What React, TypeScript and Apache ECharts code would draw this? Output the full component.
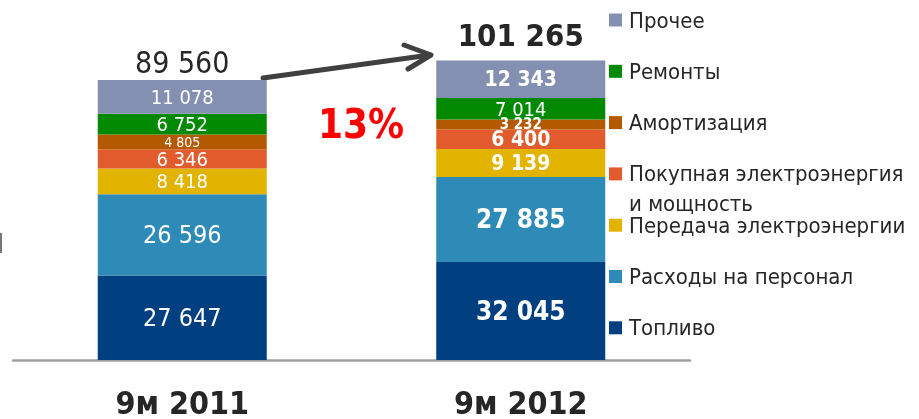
import React, { useEffect, useRef } from "react";
import * as echarts from "echarts";

const categories = ["9м 2011", "9м 2012"];
const seriesNames = [
  "Топливо",
  "Расходы на персонал",
  "Передача электроэнергии",
  "Покупная электроэнергия",
  "Амортизация",
  "Ремонты",
  "Прочее",
];
const fuel = [27647, 32045];
const personnel = [26596, 27885];
const transmission = [8418, 9139];
const purchased = [6346, 6400];
const depreciation = [4805, 3232];
const repairs = [6752, 7014];
const other = [11078, 12343];
const totals = [89560, 101265];
const growthText = "13%";
const legendExtraLine = "и мощность";

const seriesValues = [fuel, personnel, transmission, purchased, depreciation, repairs, other];
const colors = ["#003f80", "#2e8ab6", "#e2b400", "#e15b2d", "#b35a00", "#018a01", "#8490b2"];
// label font size per series per category
const labelSizes = [
  [25, 26],
  [25, 26],
  [20, 21],
  [20, 21],
  [14, 15],
  [20, 20],
  [20, 21],
];
const labelBold = [
  [false, true],
  [false, true],
  [false, true],
  [false, true],
  [false, true],
  [false, false],
  [false, true],
];

const FONT = '"DejaVu Sans Condensed", "DejaVu Sans", sans-serif';

const fmt = (v: number) => String(v).replace(/\B(?=(\d{3})+(?!\d))/g, " ");

export default function App() {
  const ref = useRef<HTMLDivElement>(null);
  useEffect(() => {
    if (!ref.current) return;
    const chart = echarts.init(ref.current, undefined, { renderer: "svg" });
    const barSeries: any[] = seriesNames.map((name, si) => ({
      name,
      type: "bar",
      stack: "total",
      barWidth: 169,
      itemStyle: { color: colors[si] },
      label: {
        show: true,
        position: "inside",
        color: "#ffffff",
        fontFamily: FONT,
        lineHeight: labelSizes[si][0],
        formatter: (p: any) => fmt(p.value),
      },
      data: seriesValues[si].map((v, ci) => ({
        value: v,
        label: {
          fontSize: labelSizes[si][ci],
          lineHeight: labelSizes[si][ci],
          fontWeight: labelBold[si][ci] ? "bold" : "normal",
        },
      })),
    }));
    barSeries.push({
      name: "Итого",
      type: "bar",
      stack: "total",
      barWidth: 169,
      itemStyle: { color: "rgba(0,0,0,0)" },
      label: {
        show: true,
        position: "top",
        color: "#262626",
        fontFamily: FONT,
        formatter: (p: any) => fmt(totals[p.dataIndex]),
      },
      data: totals.map((_, ci) => ({
        value: 0,
        label: ci === 0
          ? { fontSize: 30, fontWeight: "normal", distance: 2 }
          : { fontSize: 31, fontWeight: "bold", distance: 10 },
      })),
    });

    chart.setOption({
      animation: false,
      grid: { left: 13, right: 229, top: 30, bottom: 57 },
      legend: {
        orient: "vertical",
        left: 609,
        top: 9,
        padding: 0,
        itemWidth: 13,
        itemHeight: 13,
        itemGap: 29.3,
        icon: "rect",
        selectedMode: false,
        data: [...seriesNames].reverse(),
        textStyle: {
          fontFamily: FONT,
          fontSize: 22,
          lineHeight: 22,
          color: "#262626",
          padding: [0, 0, 0, 2],
        },
      },
      xAxis: {
        type: "category",
        data: categories,
        axisLine: { lineStyle: { color: "#a0a0a0", width: 2.5 } },
        axisTick: { show: false },
        axisLabel: {
          margin: 27,
          fontFamily: FONT,
          fontSize: 32,
          lineHeight: 32,
          fontWeight: "bold",
          color: "#262626",
        },
      },
      yAxis: {
        type: "value",
        min: 0,
        max: 108000,
        show: false,
        splitLine: { show: false },
      },
      graphic: [
        { type: "rect", shape: { x: 0, y: 233, width: 2, height: 20 }, style: { fill: "#777777" } },
        {
          type: "line",
          shape: { x1: 263, y1: 78, x2: 430, y2: 55 },
          style: { stroke: "#404040", lineWidth: 5, lineCap: "round" },
        },
        {
          type: "polyline",
          shape: { points: [[404, 45], [431, 55], [408, 69]] },
          style: { stroke: "#404040", lineWidth: 5, lineCap: "round", lineJoin: "round", fill: null },
        },
        {
          type: "text",
          x: 361,
          y: 124,
          style: {
            text: growthText,
            fontFamily: FONT,
            fontSize: 40,
            fontWeight: "bold",
            fill: "#ff0000",
            align: "center",
            verticalAlign: "middle",
          },
        },
        {
          type: "text",
          x: 629,
          y: 203,
          style: {
            text: legendExtraLine,
            fontFamily: FONT,
            fontSize: 22,
            fill: "#262626",
            align: "left",
            verticalAlign: "middle",
          },
        },
      ],
      series: barSeries,
    });
    return () => chart.dispose();
  }, []);
  return (
    <div
      ref={ref}
      style={{ position: "fixed", left: 0, top: 0, width: 919, height: 419 }}
    />
  );
}
